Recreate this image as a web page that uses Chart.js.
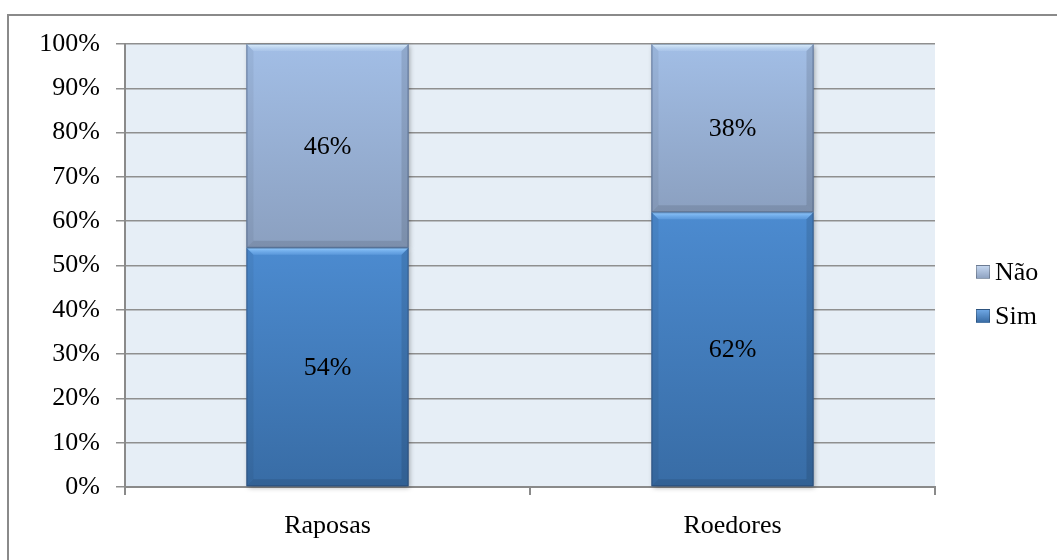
<!DOCTYPE html>
<html>
<head>
<meta charset="utf-8">
<script src="https://cdn.jsdelivr.net/npm/chart.js@4.4.1/dist/chart.umd.min.js"></script>
<style>
  html, body { margin: 0; padding: 0; background: #fff; overflow: hidden; }
  #wrap { position: relative; width: 1057px; height: 560px; }
  #frame { position: absolute; left: 7px; top: 14px; width: 1100px; height: 600px;
           border: 2px solid #8a8a8a; box-sizing: border-box; }
  canvas { position: absolute; left: 0; top: 0; }
  .legend { position: absolute; left: 976px; font-family: "Liberation Serif", "Times New Roman", serif;
            font-size: 26px; color: #000; display: flex; align-items: center; }
  .legend i { display: inline-block; width: 14px; height: 14px; margin-right: 5px;
              box-sizing: border-box; border: 1px solid rgba(0,0,0,0.25); }
</style>
</head>
<body>
<div id="wrap">
  <div id="frame"></div>
  <canvas id="c" width="1057" height="560"></canvas>
  <div class="legend" style="top:257px"><i style="background:linear-gradient(#c4d6ef,#8fa3c2)"></i><span>Não</span></div>
  <div class="legend" style="top:301px"><i style="background:linear-gradient(#6ea6e3,#3a6da6)"></i><span>Sim</span></div>
</div>
<script>
const categories = ['Raposas', 'Roedores'];
const simValues = [54, 62];
const naoValues = [46, 38];
const yTicks = [0, 10, 20, 30, 40, 50, 60, 70, 80, 90, 100];

const serif = '"Liberation Serif", "Times New Roman", serif';

// vertical gradient spanning one stacked segment
function segGradient(ctx, lo, hi, top, bottom) {
  const chart = ctx.chart;
  const y = chart.scales.y;
  if (!y || !chart.chartArea) return bottom;
  const yTop = y.getPixelForValue(hi), yBot = y.getPixelForValue(lo);
  const g = chart.ctx.createLinearGradient(0, yTop, 0, yBot);
  g.addColorStop(0, top);
  g.addColorStop(1, bottom);
  return g;
}

// soft shadow under each bar
const shadowPlugin = {
  id: 'barShadow',
  beforeDatasetsDraw(chart) {
    const ctx = chart.ctx;
    ctx.save();
    chart.data.datasets.forEach((ds, di) => {
      chart.getDatasetMeta(di).data.forEach(el => {
        const l = el.x - el.width / 2;
        const top = Math.min(el.y, el.base), bot = Math.max(el.y, el.base);
        ctx.shadowColor = 'rgba(0,0,0,0.35)';
        ctx.shadowBlur = 5;
        ctx.shadowOffsetX = 1;
        ctx.shadowOffsetY = 2;
        ctx.fillStyle = '#5a7090';
        ctx.fillRect(l, top, el.width, bot - top);
      });
    });
    ctx.restore();
  }
};

// bevelled edges and centred value labels
const bevelPlugin = {
  id: 'bevel',
  afterDatasetsDraw(chart) {
    const ctx = chart.ctx;
    const b = 7;
    chart.data.datasets.forEach((ds, di) => {
      const isSim = di === 0;
      chart.getDatasetMeta(di).data.forEach((el, i) => {
        const l = el.x - el.width / 2, r = el.x + el.width / 2;
        const t = Math.min(el.y, el.base), bt = Math.max(el.y, el.base);
        ctx.save();
        // top bevel
        ctx.beginPath();
        ctx.moveTo(l, t); ctx.lineTo(r, t); ctx.lineTo(r - b, t + b); ctx.lineTo(l + b, t + b); ctx.closePath();
        const gt = ctx.createLinearGradient(0, t, 0, t + b);
        gt.addColorStop(0, isSim ? 'rgba(150,205,255,0.95)' : 'rgba(225,242,252,0.95)');
        gt.addColorStop(1, isSim ? 'rgba(110,170,235,0.45)' : 'rgba(185,210,240,0.35)');
        ctx.fillStyle = gt; ctx.fill();
        // left bevel
        ctx.beginPath();
        ctx.moveTo(l, t); ctx.lineTo(l + b, t + b); ctx.lineTo(l + b, bt - b); ctx.lineTo(l, bt); ctx.closePath();
        ctx.fillStyle = 'rgba(0,0,0,0.05)'; ctx.fill();
        // right bevel
        ctx.beginPath();
        ctx.moveTo(r, t); ctx.lineTo(r - b, t + b); ctx.lineTo(r - b, bt - b); ctx.lineTo(r, bt); ctx.closePath();
        ctx.fillStyle = 'rgba(0,0,0,0.11)'; ctx.fill();
        // bottom bevel
        ctx.beginPath();
        ctx.moveTo(l, bt); ctx.lineTo(r, bt); ctx.lineTo(r - b, bt - b); ctx.lineTo(l + b, bt - b); ctx.closePath();
        ctx.fillStyle = 'rgba(0,0,0,0.10)'; ctx.fill();
        // outline
        ctx.strokeStyle = 'rgba(30,50,80,0.35)';
        ctx.lineWidth = 1;
        ctx.strokeRect(l + 0.5, t + 0.5, el.width - 1, bt - t - 1);
        // value label
        ctx.fillStyle = '#000';
        ctx.font = '26px ' + serif;
        ctx.textAlign = 'center';
        ctx.textBaseline = 'middle';
        ctx.fillText(ds.data[i] + '%', el.x, (t + bt) / 2 + 1);
        ctx.restore();
      });
    });
  }
};

// light blue plot background
const plotBg = {
  id: 'plotBg',
  beforeDraw(chart) {
    const a = chart.chartArea, ctx = chart.ctx;
    ctx.save();
    ctx.fillStyle = '#e6eef6';
    ctx.fillRect(a.left, a.top, a.right - a.left, a.bottom - a.top);
    ctx.restore();
  }
};

new Chart(document.getElementById('c'), {
  type: 'bar',
  data: {
    labels: categories,
    datasets: [
      {
        label: 'Sim',
        data: simValues,
        backgroundColor: ctx => segGradient(ctx, 0, simValues[ctx.dataIndex], '#4c8bd0', '#386ca5'),
        borderWidth: 0
      },
      {
        label: 'Não',
        data: naoValues,
        backgroundColor: ctx => segGradient(ctx, simValues[ctx.dataIndex], simValues[ctx.dataIndex] + naoValues[ctx.dataIndex], '#a2bee6', '#8ba0c0'),
        borderWidth: 0
      }
    ]
  },
  options: {
    responsive: false,
    animation: false,
    layout: { padding: { left: 0, top: 44, right: 122, bottom: 0 } },
    datasets: { bar: { categoryPercentage: 1.0, barPercentage: 0.4 } },
    plugins: { legend: { display: false }, tooltip: { enabled: false } },
    scales: {
      x: {
        stacked: true,
        grid: { offset: true, drawOnChartArea: false, drawTicks: true, tickLength: 8, color: '#8a8a8a', lineWidth: 2 },
        border: { display: true, color: '#8a8a8a', width: 2 },
        ticks: { color: '#000', font: { family: serif, size: 26 }, padding: 16 },
        afterFit(scale) { scale.height = 73; }
      },
      y: {
        stacked: true,
        min: 0, max: 100,
        afterBuildTicks(scale) { scale.ticks = yTicks.map(v => ({ value: v })); },
        grid: { color: '#8f8f8f', lineWidth: 1.5, drawTicks: true, tickLength: 9 },
        border: { display: true, color: '#8a8a8a', width: 2 },
        ticks: { color: '#000', font: { family: serif, size: 26 }, padding: 16, callback: v => v + '%' },
        afterFit(scale) { scale.width = 125; }
      }
    }
  },
  plugins: [plotBg, shadowPlugin, bevelPlugin]
});
</script>
</body>
</html>
